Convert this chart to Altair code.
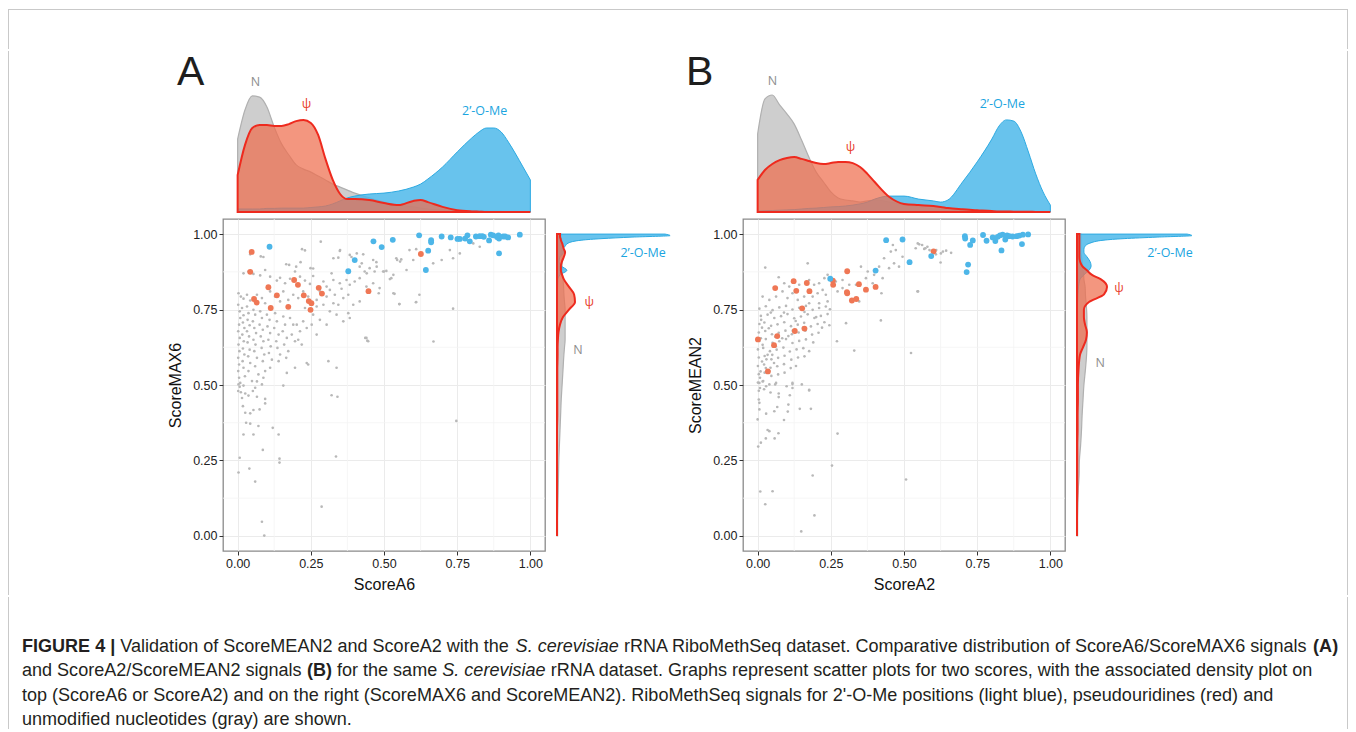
import altair as alt
import pandas as pd

# ---------------------------------------------------------------- data
# Panel A : ScoreA6 (x) vs ScoreMAX6 (y)
A_N = [(0.284,0.975),(0.220,0.950),(0.230,0.946),(0.349,0.944),(0.079,0.926),(0.088,0.924),(0.043,0.933),(0.166,0.900),(0.176,0.898),(0.200,0.892),(0.215,0.907),(0.249,0.887),(0.258,0.886),(0.327,0.920),(0.344,0.922),(0.383,0.931),(0.389,0.924),(0.429,0.933),(0.463,0.914),(0.474,0.907),(0.542,0.920),(0.559,0.916),(0.587,0.947),(0.610,0.950),(0.417,0.892),(0.434,0.876),(0.451,0.887),(0.468,0.876),(0.497,0.876),(0.508,0.878),(0.525,0.854),(0.536,0.802),(0.553,0.768),(0.610,0.775),(0.621,0.799),
       (0.350,0.947),(0.407,0.936),(0.424,0.903),(0.475,0.892),(0.500,0.876),(0.532,0.865),
       (0.747,0.381),(0.669,0.644),(0.736,0.753),(0.443,0.647),(0.436,0.656),(0.609,0.774),(0.552,0.768),(0.532,0.804),(0.520,0.851),(0.545,0.914),(0.555,0.909),(0.577,0.881),(0.600,0.914),(0.668,0.903),(0.697,0.914),(0.725,0.947),(0.736,0.920),(0.759,0.936),(0.805,0.969),(0.827,0.958),(0.482,0.804),(0.441,0.870),
       (0.020,0.870),(0.037,0.876),(0.054,0.868),(0.077,0.863),(0.094,0.881),(0.111,0.859),(0.134,0.846),(0.145,0.855),(0.162,0.837),(0.179,0.852),(0.196,0.876),(0.213,0.859),(0.230,0.846),(0.258,0.861),(0.247,0.835),(0.293,0.843),(0.304,0.826),(0.321,0.870),(0.327,0.848),(0.349,0.837),(0.355,0.819),(0.372,0.848),(0.383,0.832),(0.400,0.843),(0.417,0.854),(0.440,0.826),(0.463,0.837),(0.485,0.821),
       (0.003,0.804),(0.011,0.793),(0.020,0.786),(0.032,0.799),(0.043,0.780),(0.066,0.799),(0.083,0.788),(0.094,0.771),(0.111,0.810),(0.128,0.793),(0.145,0.777),(0.156,0.810),(0.173,0.782),(0.190,0.799),(0.207,0.788),(0.224,0.810),(0.241,0.793),(0.270,0.782),(0.281,0.810),(0.304,0.793),(0.315,0.815),(0.332,0.799),(0.344,0.766),(0.361,0.788),(0.378,0.799),(0.395,0.766),(0.417,0.777),(0.327,0.771),(0.293,0.766),(0.270,0.760),(0.253,0.749),(0.230,0.755),
       (0.002,0.766),(0.007,0.744),(0.009,0.722),(0.005,0.700),(0.002,0.678),(0.007,0.656),(0.003,0.634),(0.006,0.612),(0.002,0.590),(0.005,0.568),(0.002,0.546),(0.005,0.524),(0.003,0.502),(0.002,0.480),
       (0.015,0.755),(0.020,0.731),(0.018,0.707),(0.023,0.689),(0.016,0.667),(0.021,0.645),(0.018,0.621),(0.023,0.601),(0.017,0.579),(0.020,0.557),(0.025,0.529),
       (0.032,0.760),(0.037,0.738),(0.034,0.716),(0.041,0.698),(0.032,0.678),(0.039,0.661),(0.034,0.641),(0.041,0.617),(0.036,0.595),(0.043,0.573),(0.037,0.546),(0.049,0.513),
       (0.054,0.749),(0.060,0.733),(0.052,0.711),(0.057,0.689),(0.063,0.672),(0.054,0.650),(0.061,0.634),(0.057,0.612),(0.066,0.590),(0.060,0.562),(0.071,0.535),
       (0.077,0.744),(0.083,0.722),(0.075,0.700),(0.086,0.683),(0.079,0.661),(0.088,0.645),(0.082,0.623),(0.091,0.601),(0.086,0.579),(0.094,0.546),
       (0.100,0.733),(0.109,0.716),(0.102,0.694),(0.111,0.672),(0.105,0.650),(0.113,0.628),(0.107,0.606),(0.117,0.584),(0.111,0.557),
       (0.128,0.738),(0.134,0.711),(0.125,0.689),(0.140,0.667),(0.132,0.645),(0.136,0.623),(0.145,0.601),(0.140,0.579),
       (0.156,0.727),(0.162,0.700),(0.154,0.678),(0.168,0.656),(0.159,0.634),(0.173,0.612),(0.166,0.590),
       (0.179,0.722),(0.190,0.700),(0.185,0.667),(0.196,0.645),(0.202,0.700),(0.213,0.678),(0.207,0.650),(0.224,0.711),(0.236,0.689),(0.219,0.634),(0.236,0.573),(0.241,0.568),(0.196,0.557),
       (0.258,0.733),(0.281,0.716),(0.304,0.700),(0.270,0.667),(0.253,0.700),(0.315,0.744),(0.338,0.733),(0.361,0.711),(0.378,0.738),(0.383,0.722),(0.440,0.656),(0.446,0.645),(0.310,0.579),(0.338,0.557),(0.168,0.540),(0.088,0.524),
       (0.009,0.507),(0.020,0.498),(0.007,0.494),(0.066,0.512),(0.083,0.502),(0.060,0.491),(0.156,0.498),(0.011,0.476),(0.026,0.472),(0.037,0.465),(0.052,0.480),(0.066,0.461),(0.094,0.454),(0.094,0.439),(0.015,0.457),(0.018,0.430),(0.026,0.408),(0.043,0.406),(0.054,0.417),(0.075,0.419),(0.029,0.375),(0.043,0.372),(0.071,0.364),(0.120,0.358),(0.020,0.336),(0.054,0.336),(0.140,0.336),(0.086,0.285),(0.007,0.259),(0.143,0.256),(0.143,0.243),(0.040,0.223),(0.003,0.210),(0.060,0.180),(0.083,0.047),(0.091,0.001),(0.287,0.097),(0.321,0.466),(0.341,0.461),(0.336,0.263)]
A_PSI = [(0.048,0.941),(0.043,0.875),(0.056,0.785),(0.065,0.773),(0.105,0.824),(0.113,0.755),(0.134,0.797),(0.173,0.759),(0.193,0.848),(0.206,0.832),(0.226,0.797),(0.243,0.778),(0.252,0.771),(0.249,0.749),(0.277,0.822),(0.288,0.803),(0.447,0.811),(0.626,0.934)]
A_OME = [(0.109,0.958),(0.464,0.976),(0.492,0.957),(0.530,0.981),(0.400,0.914),(0.378,0.877),(0.620,0.996),(0.651,0.945),(0.643,0.881),(0.661,0.980),(0.661,0.973),(0.697,0.992),(0.728,0.989),(0.751,0.984),(0.759,0.984),(0.777,0.985),(0.785,0.996),(0.793,0.976),(0.814,0.992),(0.836,0.993),(0.841,0.991),(0.859,0.979),(0.865,0.998),(0.873,0.996),(0.886,0.990),(0.893,0.985),(0.893,0.936),(0.907,0.992),(0.914,0.992),(0.924,0.989),(0.964,0.998),(0.891,0.996),(0.827,0.993)]

# Panel B : ScoreA2 (x) vs ScoreMEAN2 (y)
B_N = [(0.026,0.889),(0.171,0.903),(0.072,0.857),(0.091,0.837),(0.108,0.826),(0.142,0.832),(0.176,0.848),(0.193,0.832),(0.210,0.837),(0.228,0.854),(0.239,0.865),(0.222,0.815),(0.205,0.804),(0.188,0.793),(0.233,0.799),(0.239,0.777),(0.210,0.771),(0.017,0.793),(0.040,0.782),(0.063,0.793),(0.085,0.810),(0.102,0.788),(0.119,0.804),(0.137,0.782),(0.159,0.793),(0.176,0.771),
       (0.006,0.753),(0.028,0.761),(0.051,0.748),(0.074,0.757),(0.097,0.762),(0.119,0.750),(0.142,0.756),(0.165,0.762),(0.188,0.749),(0.210,0.755),(0.233,0.760),(0.247,0.751),
       (0.011,0.729),(0.034,0.733),(0.057,0.722),(0.080,0.728),(0.102,0.735),(0.125,0.721),(0.148,0.727),(0.171,0.734),(0.194,0.722),(0.216,0.729),(0.239,0.735),
       (0.006,0.702),(0.023,0.707),(0.046,0.696),(0.068,0.701),(0.091,0.708),(0.114,0.695),(0.137,0.700),(0.159,0.706),(0.182,0.694),(0.205,0.702),(0.228,0.708),(0.245,0.698),
       (0.004,0.674),(0.026,0.679),(0.049,0.668),(0.072,0.673),(0.095,0.680),(0.117,0.668),(0.140,0.674),(0.163,0.680),(0.186,0.667),(0.208,0.673),
       (0.006,0.646),(0.028,0.652),(0.051,0.640),(0.074,0.645),(0.097,0.652),(0.119,0.639),(0.142,0.646),(0.165,0.651),(0.190,0.641),
       (0.001,0.618),(0.019,0.623),(0.042,0.612),(0.065,0.617),(0.088,0.624),(0.110,0.611),(0.133,0.618),(0.156,0.622),(0.176,0.612),
       (0.004,0.591),(0.024,0.596),(0.047,0.585),(0.070,0.590),(0.092,0.597),(0.115,0.584),(0.138,0.591),(0.160,0.595),
       (0.001,0.563),(0.022,0.568),(0.044,0.557),(0.067,0.562),(0.090,0.569),(0.113,0.556),(0.131,0.563),
       (0.004,0.536),(0.024,0.541),(0.047,0.530),(0.070,0.535),(0.092,0.541),
       (0.001,0.508),(0.019,0.513),(0.040,0.502),(0.063,0.507),(0.119,0.503),
       (0.004,0.481),(0.022,0.486),(0.044,0.475),(0.176,0.484),
       (0.011,0.655),(0.017,0.633),(0.034,0.600),(0.015,0.578),(0.028,0.556),(0.008,0.524),(0.056,0.573),(0.040,0.546),
       (0.015,0.690),(0.038,0.688),(0.060,0.660),(0.084,0.655),(0.012,0.716),(0.045,0.740),(0.130,0.712),(0.155,0.690),(0.105,0.662),(0.062,0.628),(0.090,0.740),(0.160,0.742),(0.200,0.725),(0.220,0.690),(0.120,0.680),(0.030,0.585),(0.050,0.600),(0.010,0.545),
       (0.273,0.810),(0.290,0.821),(0.336,0.832),(0.353,0.892),(0.376,0.876),(0.398,0.865),(0.415,0.892),(0.432,0.920),(0.449,0.887),(0.466,0.903),(0.483,0.892),(0.472,0.947),(0.495,0.925),(0.455,0.942),(0.540,0.953),(0.552,0.966),(0.569,0.951),(0.580,0.958),(0.609,0.933),(0.626,0.936),(0.546,0.810),(0.421,0.714),(0.302,0.705),(0.330,0.614),(0.271,0.645),(0.524,0.606),(0.370,0.854),(0.290,0.848),(0.393,0.837),(0.427,0.854),(0.347,0.777),(0.313,0.832),(0.267,0.843),
       (0.462,0.964),(0.547,0.969),(0.562,0.964),(0.573,0.953),(0.587,0.947),(0.610,0.947),(0.633,0.942),(0.644,0.945),(0.661,0.938),(0.625,0.906),(0.548,0.810),(0.423,0.804),(0.507,0.187),(0.254,0.233),
       (0.006,0.507),(0.017,0.512),(0.008,0.490),(0.029,0.496),(0.060,0.502),(0.099,0.496),(0.119,0.507),(0.151,0.502),(0.119,0.490),(0.072,0.472),(0.110,0.466),(0.072,0.460),(0.176,0.482),(0.004,0.452),(0.006,0.441),(0.105,0.435),(0.067,0.427),(0.006,0.419),(0.029,0.405),(0.057,0.413),(0.103,0.412),(0.144,0.421),(0.182,0.421),(0.000,0.386),(0.090,0.384),(0.034,0.351),(0.040,0.347),(0.071,0.340),(0.028,0.323),(0.058,0.323),(0.011,0.309),(0.002,0.296),(0.273,0.339),(0.188,0.200),(0.009,0.147),(0.051,0.148),(0.026,0.105),(0.194,0.068),(0.149,0.015)]
B_PSI = [(0.001,0.651),(0.035,0.545),(0.056,0.632),(0.067,0.662),(0.060,0.821),(0.123,0.844),(0.132,0.812),(0.168,0.838),(0.177,0.811),(0.152,0.754),(0.127,0.679),(0.160,0.687),(0.257,0.846),(0.258,0.832),(0.306,0.877),(0.306,0.804),(0.305,0.808),(0.322,0.780),(0.337,0.785),(0.346,0.834),(0.370,0.816),(0.403,0.825),(0.601,0.943)]
B_OME = [(0.439,0.980),(0.495,0.982),(0.519,0.907),(0.403,0.879),(0.248,0.852),(0.593,0.927),(0.708,0.993),(0.709,0.985),(0.719,0.899),(0.714,0.874),(0.726,0.964),(0.735,0.979),(0.770,0.997),(0.782,0.978),(0.803,0.989),(0.812,0.977),(0.820,0.991),(0.828,0.996),(0.833,0.946),(0.837,0.998),(0.846,0.982),(0.852,0.996),(0.860,0.993),(0.885,0.993),(0.894,0.995),(0.903,0.967),(0.906,0.998),(0.924,0.999),(0.871,0.992)]

# marginal densities on top (x grid and density values)
TOP_X = [0, .025, .05, .075, .1, .125, .15, .175, .2, .225, .25, .275, .3, .325, .35, .375, .4, .45, .5, .55, .6, .625, .65, .7, .75, .8, .825, .85, .875, .9, .925, .95, .975, 1.0]
A_TOP_N = [2.43,3.40,3.87,3.83,3.50,2.83,2.27,1.90,1.57,1.43,1.33,1.20,1.07,0.93,0.83,0.73,0.63,0.47,0.33,0.23,0.17,0.13,0.10,0.07,0.05,0.03,0.03,0.03,0.02,0.02,0.01,0.01,0.01,0.01]
A_TOP_PSI = [1.23,2.23,2.80,2.90,2.90,2.87,2.87,2.93,3.03,3.07,2.97,2.57,1.77,1.07,0.60,0.43,0.43,0.40,0.30,0.23,0.37,0.40,0.33,0.17,0.06,0.02,0.01,0,0,0,0,0,0,0]
A_TOP_OME = [0.10,0.10,0.10,0.10,0.12,0.12,0.13,0.13,0.13,0.13,0.15,0.17,0.20,0.27,0.37,0.47,0.53,0.60,0.63,0.70,0.83,0.93,1.10,1.50,2.00,2.47,2.67,2.80,2.80,2.67,2.33,1.93,1.50,1.07]
B_TOP_N = [2.60,3.77,3.90,3.57,3.27,2.93,2.40,1.83,1.33,1.00,0.67,0.47,0.40,0.37,0.33,0.37,0.40,0.33,0.23,0.17,0.10,0.09,0.08,0.06,0.03,0.02,0.02,0.01,0.01,0.01,0.01,0,0,0]
B_TOP_PSI = [1.07,1.40,1.60,1.73,1.80,1.83,1.77,1.70,1.63,1.60,1.63,1.67,1.67,1.63,1.50,1.27,1.00,0.50,0.27,0.23,0.20,0.17,0.13,0.09,0.06,0.03,0.02,0.02,0.01,0.01,0.01,0,0,0]
B_TOP_OME = [0.03,0.04,0.05,0.06,0.07,0.08,0.10,0.12,0.13,0.15,0.17,0.18,0.20,0.23,0.27,0.33,0.43,0.53,0.53,0.43,0.37,0.33,0.40,1.00,1.67,2.43,2.87,3.07,3.03,2.67,2.00,1.27,0.67,0.23]

# marginal densities on the right (y grid and density values)
RIGHT_Y = [0, .05, .1, .15, .2, .25, .3, .35, .4, .45, .5, .55, .6, .625, .65, .675, .7, .725, .75, .775, .8, .825, .85, .865, .88, .895, .91, .925, .94, .95, .96, .97, .98, .985, .99, .995, 1.0]
A_RIGHT_N = [.02,.02,.03,.04,.05,.06,.08,.10,.12,.14,.17,.20,.23,.25,.27,.27,.27,.27,.27,.25,.23,.22,.20,.18,.17,.17,.17,.17,.17,.15,.15,.13,.13,.13,.13,.13,.13]
A_RIGHT_PSI = [0,0,0,0,0,0,0,0,.01,.01,.01,.01,.02,.02,.03,.05,.10,.20,.40,.60,.57,.40,.23,.17,.13,.13,.17,.23,.27,.23,.20,.17,.13,.12,.10,.10,.10]
A_RIGHT_OME = [0,0,0,0,0,0,0,0,0,0,0,0,0,0,.01,.01,.01,.01,.01,.01,.01,.02,.03,.10,.33,.13,.07,.10,.23,.20,.27,.37,.83,1.50,2.50,3.77,3.60]
B_RIGHT_N = [.02,.02,.03,.04,.07,.08,.12,.15,.17,.20,.23,.28,.32,.33,.33,.33,.33,.33,.32,.30,.28,.27,.23,.22,.20,.18,.17,.15,.13,.13,.13,.13,.13,.13,.13,.13,.13]
B_RIGHT_PSI = [0,0,0,.01,.01,.01,.01,.02,.02,.03,.03,.05,.10,.20,.30,.33,.27,.23,.23,.40,.90,1.00,.80,.50,.33,.17,.10,.08,.08,.08,.08,.08,.08,.08,.08,.08,.08]
B_RIGHT_OME = [0,0,0,0,0,0,0,0,0,0,0,0,0,0,.01,.01,.01,.01,.01,.02,.03,.05,.10,.23,.40,.47,.43,.33,.23,.23,.27,.43,.90,1.57,2.67,3.83,3.67]

GROUP_LABELS = ["N", "ψ", "2’-O-Me"]
TOP_LABEL_AT_A = [(0.061, 4.33), (0.235, 3.60), (0.844, 3.37)]
TOP_LABEL_AT_B = [(0.051, 4.37), (0.317, 2.17), (0.836, 3.60)]
RIGHT_LABEL_AT_A = [(0.70, 0.617), (1.07, 0.776), (2.87, 0.937)]
RIGHT_LABEL_AT_B = [(0.77, 0.574), (1.40, 0.822), (3.10, 0.937)]

TICKS = [0, 0.25, 0.5, 0.75, 1.0]
MINOR = [0.125, 0.375, 0.625, 0.875]

CAPTION = [
    [("FIGURE 4 |", "b"), (" Validation of ScoreMEAN2 and ScoreA2 with the ", "r"), ("S. cerevisiae", "i"),
     (" rRNA RiboMethSeq dataset. Comparative distribution of ScoreA6/ScoreMAX6 signals ", "r"), ("(A)", "b")],
    [("and ScoreA2/ScoreMEAN2 signals ", "r"), ("(B)", "b"), (" for the same ", "r"), ("S. cerevisiae", "i"),
     (" rRNA dataset. Graphs represent scatter plots for two scores, with the associated density plot on", "r")],
    [("top (ScoreA6 or ScoreA2) and on the right (ScoreMAX6 and ScoreMEAN2). RiboMethSeq signals for 2'-O-Me positions (light blue), pseudouridines (red) and", "r")],
    [("unmodified nucleotides (gray) are shown.", "r")],
]

# ---------------------------------------------------------------- style
FONT = "Liberation Sans"
LFONT = "Open Sans"
C_GRAY_PT, C_RED_PT, C_BLUE_PT = "#B8B8B8", "#EF7755", "#4DB6E8"
C_N, C_PSI, C_OME = "#8E8E8E", "#E8412C", "#1BA5E0"
C_FRAME = "#C9C9C9"
SC_W, SC_H = 322, 332
TOP_H, RIGHT_W = 141, 127
FIG_W = 1340
XS = alt.Scale(domain=[-0.05, 1.05], nice=False, zero=False)
YS = alt.Scale(domain=[-0.05, 1.05], nice=False, zero=False)
TOPS = alt.Scale(domain=[0, 4.7], nice=False, zero=True)
RIGHTS = alt.Scale(domain=[0, RIGHT_W / 30.0], nice=False, zero=True)


def axis(orient):
    return alt.Axis(values=TICKS, format=".2f", grid=True, gridColor="#EBEBEB", gridWidth=1,
                    domain=False, ticks=True, tickSize=4, tickColor="#333333", tickWidth=1,
                    labelFont=FONT, labelFontSize=12.5, labelColor="#222222", labelPadding=2,
                    titleFont=FONT, titleFontSize=16, titleFontWeight="normal", titleColor="#111111",
                    titlePadding=7 if orient == "x" else 9)


def scatter(gray, red, blue, xtitle, ytitle):
    X = lambda: alt.X("x:Q", scale=XS, axis=axis("x"), title=xtitle)
    Y = lambda: alt.Y("y:Q", scale=YS, axis=axis("y"), title=ytitle)
    mv = alt.Chart(pd.DataFrame({"x": MINOR})).mark_rule(color="#F4F4F4", strokeWidth=0.8).encode(x=X())
    mh = alt.Chart(pd.DataFrame({"y": MINOR})).mark_rule(color="#F4F4F4", strokeWidth=0.8).encode(y=Y())
    g = alt.Chart(pd.DataFrame(gray, columns=["x", "y"])).mark_circle(size=7, color=C_GRAY_PT, opacity=1).encode(x=X(), y=Y())
    r = alt.Chart(pd.DataFrame(red, columns=["x", "y"])).mark_circle(size=34, color=C_RED_PT, opacity=1).encode(x=X(), y=Y())
    b = alt.Chart(pd.DataFrame(blue, columns=["x", "y"])).mark_circle(size=34, color=C_BLUE_PT, opacity=1).encode(x=X(), y=Y())
    return alt.layer(mv, mh, g, r, b).properties(
        width=SC_W, height=SC_H, view=alt.ViewBackground(stroke="#8A8A8A", strokeWidth=1.3))


AREA_STYLE = {
    "N": dict(fill="#BDBDBD", fillOpacity=0.75, stroke="#B0B0B0", strokeWidth=1.2),
    "O": dict(fill="#4DB9EA", fillOpacity=0.85, stroke="#2DAAE2", strokeWidth=1.0),
    "P": dict(fill="#EF6E4E", fillOpacity=0.72, stroke="#EE2A1E", strokeWidth=2.0),
}
LABEL_COLORS = [C_N, C_PSI, C_OME]


def top_density(n, psi, ome, label_at):
    df = pd.DataFrame({"x": TOP_X, "N": n, "P": psi, "O": ome})
    layers = []
    for key in ["N", "O", "P"]:
        layers.append(alt.Chart(df).mark_area(interpolate="monotone", **AREA_STYLE[key]).encode(
            x=alt.X("x:Q", scale=XS, axis=None), y=alt.Y(f"{key}:Q", scale=TOPS, axis=None)))
    lab = pd.DataFrame({"x": [p[0] for p in label_at], "d": [p[1] for p in label_at],
                        "t": GROUP_LABELS, "c": LABEL_COLORS})
    layers.append(alt.Chart(lab).mark_text(font=LFONT, fontSize=12.5, baseline="middle").encode(
        x=alt.X("x:Q", scale=XS, axis=None), y=alt.Y("d:Q", scale=TOPS, axis=None),
        text="t:N", color=alt.Color("c:N", scale=None)))
    return alt.layer(*layers).properties(width=SC_W, height=TOP_H)


def right_density(n, psi, ome, label_at):
    df = pd.DataFrame({"y": RIGHT_Y, "N": n, "P": psi, "O": ome})
    layers = []
    for key in ["N", "O", "P"]:
        layers.append(alt.Chart(df).mark_area(interpolate="monotone", orient="horizontal", **AREA_STYLE[key]).encode(
            y=alt.Y("y:Q", scale=YS, axis=None), x=alt.X(f"{key}:Q", scale=RIGHTS, axis=None)))
    lab = pd.DataFrame({"d": [p[0] for p in label_at], "y": [p[1] for p in label_at],
                        "t": GROUP_LABELS, "c": LABEL_COLORS})
    layers.append(alt.Chart(lab).mark_text(font=LFONT, fontSize=12.5, baseline="middle").encode(
        x=alt.X("d:Q", scale=RIGHTS, axis=None), y=alt.Y("y:Q", scale=YS, axis=None),
        text="t:N", color=alt.Color("c:N", scale=None)))
    return alt.layer(*layers).properties(width=RIGHT_W, height=SC_H)


ONE = pd.DataFrame({"a": [0]})


def spacer(w, h):
    return alt.Chart(ONE).mark_point(size=0, opacity=0).encode(
        x=alt.value(w / 2), y=alt.value(h / 2)).properties(width=w, height=h)


def vline(x, y1, y2):
    return alt.Chart(ONE).mark_rule(color=C_FRAME, strokeWidth=1).encode(
        x=alt.value(x), y=alt.value(y1), y2=alt.value(y2))


def hline(y, x2):
    return alt.Chart(ONE).mark_rule(color=C_FRAME, strokeWidth=1).encode(
        x=alt.value(0.5), x2=alt.value(x2), y=alt.value(y))


def panel(letter, dx, gray, red, blue, top, right, tlab, rlab, xtitle, ytitle):
    left = alt.vconcat(top_density(*top, tlab), scatter(gray, red, blue, xtitle, ytitle),
                       spacing=7, bounds="flush")
    rcol = alt.vconcat(spacer(RIGHT_W, TOP_H), right_density(*right, rlab), spacing=7, bounds="flush")
    return alt.hconcat(left, rcol, spacing=6, title=alt.TitleParams(
        text=letter, anchor="start", frame="bounds", fontSize=41, font=FONT, fontWeight="normal",
        color="#1E1E1E", baseline="alphabetic", offset=-55, dx=dx))


# ---------------------------------------------------------------- caption
CAP_FS = 18.05
CAP_X0 = 14
AR = dict(zip(" ()-./|'’,", [278, 333, 333, 333, 278, 278, 260, 191, 222, 278]))
AR.update({c: 556 for c in "0123456789"})
AR.update(dict(zip("ABCDEFGHIJKLMNOPQRSTUVWXYZ",
                   [667, 667, 722, 722, 667, 611, 778, 722, 278, 500, 667, 556, 833, 722, 778, 667, 778, 722, 667, 611, 722, 667, 944, 667, 667, 611])))
AR.update(dict(zip("abcdefghijklmnopqrstuvwxyz",
                   [556, 556, 500, 556, 556, 278, 556, 556, 222, 222, 500, 222, 833, 556, 556, 556, 556, 333, 500, 278, 556, 500, 722, 500, 500, 500])))
ARB = dict(AR)
ARB.update({"A": 722, "B": 722, "|": 280})


def tw(s, style):
    tab = ARB if style == "b" else AR
    return sum(tab.get(c, 556) for c in s) / 1000.0 * CAP_FS


TOP_BAND_H = 40
ROW_H = 524
CAP_H = 120
cap_layers = [vline(0.5, 0, 132), vline(FIG_W - 0.5, 0, 132)]
LINE_Y = [54.5, 78.5, 103.5, 128.0]
for li, segs in enumerate(CAPTION):
    x = float(CAP_X0)
    for txt, st in segs:
        lead = len(txt) - len(txt.lstrip(" "))
        body = txt.strip(" ")
        xs = x + tw(" " * lead, st)
        cap_layers.append(alt.Chart(pd.DataFrame({"t": [body]})).mark_text(
            align="left", baseline="alphabetic", font=FONT, fontSize=CAP_FS, color="#231F20",
            fontWeight="bold" if st == "b" else "normal",
            fontStyle="italic" if st == "i" else "normal").encode(
            text="t:N", x=alt.value(xs), y=alt.value(LINE_Y[li])))
        x += tw(txt, st)
caption = alt.layer(*cap_layers).properties(width=FIG_W, height=CAP_H)

# frame pieces (light border around the whole figure)
top_band = alt.layer(hline(0.5, FIG_W - 0.5), vline(0.5, 0, TOP_BAND_H), vline(FIG_W - 0.5, 0, TOP_BAND_H)).properties(
    width=FIG_W, height=TOP_BAND_H)
left_band = alt.layer(vline(0.5, -20, ROW_H)).properties(width=157, height=ROW_H)
right_band = alt.layer(vline(141.5, -20, ROW_H)).properties(width=142, height=ROW_H)

# ---------------------------------------------------------------- figure
panelA = panel("A", 10, A_N, A_PSI, A_OME, (A_TOP_N, A_TOP_PSI, A_TOP_OME),
               (A_RIGHT_N, A_RIGHT_PSI, A_RIGHT_OME), TOP_LABEL_AT_A, RIGHT_LABEL_AT_A, "ScoreA6", "ScoreMAX6")
panelB = panel("B", -1, B_N, B_PSI, B_OME, (B_TOP_N, B_TOP_PSI, B_TOP_OME),
               (B_RIGHT_N, B_RIGHT_PSI, B_RIGHT_OME), TOP_LABEL_AT_B, RIGHT_LABEL_AT_B, "ScoreA2", "ScoreMEAN2")

row = alt.hconcat(left_band, panelA, panelB, right_band, spacing=2)
chart = alt.vconcat(top_band, row, caption, spacing=0).properties(
    padding={"left": 0, "top": 0, "right": 0, "bottom": 0}
).configure(font=FONT).configure_view(stroke="transparent", strokeWidth=0)

chart.save("out.html", embed_options={"renderer": "svg", "actions": False})
